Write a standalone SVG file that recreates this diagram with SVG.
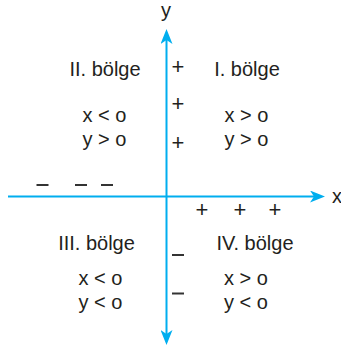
<svg xmlns="http://www.w3.org/2000/svg" width="341" height="350" viewBox="0 0 341 350">
<style>
.t{font-family:"Liberation Sans",Arial,sans-serif;font-size:20px;fill:#231f20;text-anchor:middle}
.p{font-family:"Liberation Sans",Arial,sans-serif;font-size:22px;fill:#231f20;text-anchor:middle}
.ax{stroke:#00aeef;stroke-width:2;fill:none}
.m{stroke:#333;stroke-width:2}
</style>
<defs>
<marker id="ah" markerUnits="userSpaceOnUse" markerWidth="16" markerHeight="12" refX="11" refY="6" orient="auto-start-reverse">
<path d="M0,0 L15,6 L0,12 L4,6 Z" fill="#00aeef"/>
</marker>
</defs>
<g id="connectors">
<line class="ax" x1="166.5" y1="33" x2="166.5" y2="341" marker-start="url(#ah)" marker-end="url(#ah)"/>
<line class="ax" x1="8" y1="196.5" x2="321" y2="196.5" marker-end="url(#ah)"/>
</g>
<g id="axis-labels">
<text class="t" x="166" y="17">y</text>
<text class="t" x="337" y="203">x</text>
</g>
<g id="q2">
<text class="t" x="105" y="76">II. bölge</text>
<text class="t" x="104.5" y="122">x &lt; o</text>
<text class="t" x="104.5" y="146">y &gt; o</text>
</g>
<g id="q1">
<text class="t" x="247" y="76">I. bölge</text>
<text class="t" x="246.5" y="122">x &gt; o</text>
<text class="t" x="246.5" y="146">y &gt; o</text>
</g>
<g id="q3">
<text class="t" x="96.5" y="250">III. bölge</text>
<text class="t" x="100.5" y="285">x &lt; o</text>
<text class="t" x="100.5" y="309">y &lt; o</text>
</g>
<g id="q4">
<text class="t" x="255" y="250">IV. bölge</text>
<text class="t" x="246" y="285">x &gt; o</text>
<text class="t" x="246" y="309">y &lt; o</text>
</g>
<g id="signs">
<text class="p" x="178" y="73.5">+</text>
<text class="p" x="178" y="110.5">+</text>
<text class="p" x="178" y="149.5">+</text>
<text class="p" x="202" y="216.5">+</text>
<text class="p" x="240" y="216.5">+</text>
<text class="p" x="275" y="216.5">+</text>
<line class="m" x1="36.5" y1="185" x2="48.5" y2="185"/>
<line class="m" x1="75" y1="185" x2="87" y2="185"/>
<line class="m" x1="101" y1="185" x2="113" y2="185"/>
<line class="m" x1="172" y1="255" x2="184" y2="255"/>
<line class="m" x1="172" y1="293.5" x2="184" y2="293.5"/>
</g>
</svg>
